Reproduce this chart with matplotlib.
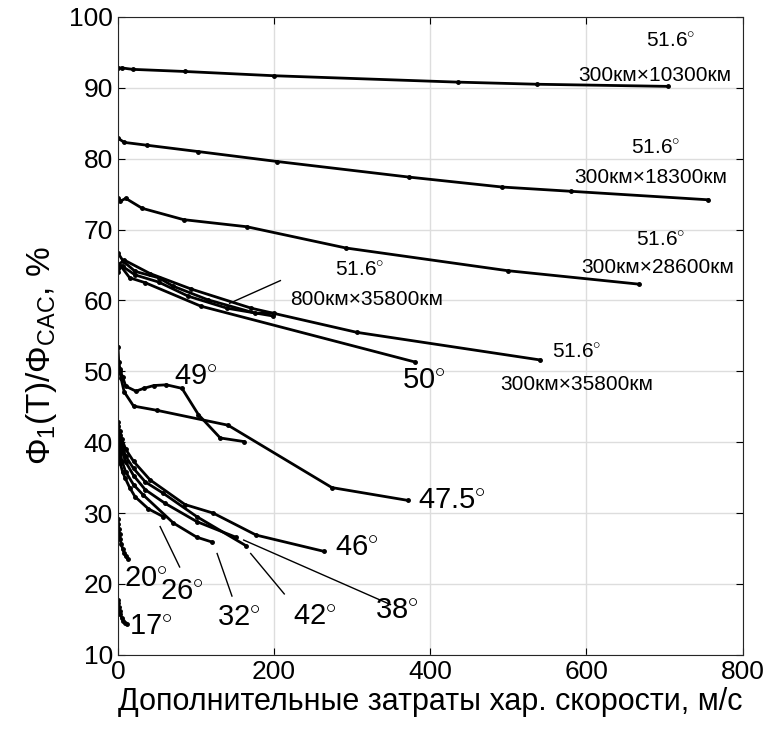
import matplotlib.pyplot as plt

plt.rcParams["font.family"] = ["Liberation Sans", "DejaVu Sans"]
plt.rcParams["mathtext.fontset"] = "custom"
plt.rcParams["mathtext.rm"] = "Liberation Sans"
plt.rcParams["mathtext.it"] = "Liberation Sans:italic"

# ---- curves: extra delta-V (m/s) vs Phi1(T)/Phi_CAC (%) ----
x_10300 = [0, 5, 19, 86, 200, 435, 537, 704]
y_10300 = [92.8, 92.8, 92.6, 92.3, 91.7, 90.8, 90.5, 90.2]

x_18300 = [0, 8, 37, 103, 204, 373, 492, 580, 756]
y_18300 = [82.9, 82.3, 81.9, 81.0, 79.6, 77.4, 76.0, 75.4, 74.2]

x_28600 = [0, 3, 10, 31, 84, 165, 292, 499, 667]
y_28600 = [74.4, 74.0, 74.4, 73.0, 71.4, 70.4, 67.4, 64.2, 62.3]

x_35800_300 = [0, 8, 41, 94, 171, 306, 541]
y_35800_300 = [65.0, 65.7, 63.8, 61.6, 58.9, 55.5, 51.6]

x_35800_800a = [0, 7, 22, 52, 71, 115, 176, 200]
y_35800_800a = [66.7, 65.5, 64.1, 63.2, 62.0, 60.1, 58.2, 58.2]

x_35800_800b = [0, 6, 22, 52, 90, 140, 199]
y_35800_800b = [64.6, 64.8, 63.6, 62.6, 60.6, 58.9, 57.8]

x_50 = [0, 4, 15, 35, 106, 381]
y_50 = [64.0, 64.8, 63.2, 62.5, 59.2, 51.3]

x_49 = [0, 1, 3, 6, 10, 23, 33, 46, 62, 82, 103, 131, 161]
y_49 = [53.5, 51.3, 50.1, 49.2, 47.9, 47.2, 47.6, 48.0, 48.1, 47.6, 43.9, 40.6, 40.1]

x_475 = [0, 2, 4, 8, 20, 50, 141, 274, 371]
y_475 = [51.3, 50.3, 49.0, 47.1, 45.1, 44.5, 42.4, 33.6, 31.8]

x_46 = [0, 2, 5, 10, 20, 41, 86, 122, 177, 264]
y_46 = [42.9, 41.6, 40.4, 39.0, 37.3, 34.7, 31.2, 30.0, 26.9, 24.6]

x_42 = [0, 2, 5, 10, 20, 35, 58, 101, 164]
y_42 = [42.3, 41.0, 39.6, 38.0, 36.3, 34.4, 32.8, 29.5, 25.4]

x_38 = [0, 2, 5, 10, 20, 35, 60, 101, 151]
y_38 = [41.6, 40.2, 38.8, 37.2, 35.3, 33.3, 31.4, 28.8, 26.6]

x_32 = [0, 2, 5, 10, 20, 32, 71, 101, 121]
y_32 = [40.6, 39.0, 37.4, 35.8, 34.0, 32.6, 28.6, 26.6, 25.9]

x_26 = [0, 1, 3, 6, 9, 15, 22, 39, 58]
y_26 = [39.5, 38.3, 37.0, 35.8, 35.0, 33.6, 32.3, 30.6, 29.5]

x_20 = [0, 0.5, 1, 2, 3, 4, 6, 8, 10, 13]
y_20 = [29.2, 28.5, 27.8, 27.0, 26.3, 25.7, 25.0, 24.4, 23.9, 23.5]

x_17 = [0, 0.5, 1, 2, 3, 5, 7, 9, 11]
y_17 = [17.8, 17.3, 16.8, 16.2, 15.7, 15.2, 14.8, 14.5, 14.3]

curves = [
    (x_10300, y_10300), (x_18300, y_18300), (x_28600, y_28600),
    (x_35800_300, y_35800_300), (x_35800_800a, y_35800_800a),
    (x_35800_800b, y_35800_800b), (x_50, y_50), (x_49, y_49),
    (x_475, y_475), (x_46, y_46), (x_42, y_42), (x_38, y_38),
    (x_32, y_32), (x_26, y_26), (x_20, y_20), (x_17, y_17),
]

# ---- text labels ----
small_labels = [
    (708, 96.6, "51.6$^{\\circ}$"), (688, 91.8, "300км×10300км"),
    (688, 81.5, "51.6$^{\\circ}$"), (682, 77.3, "300км×18300км"),
    (695, 68.5, "51.6$^{\\circ}$"), (691, 64.6, "300км×28600км"),
    (310, 64.3, "51.6$^{\\circ}$"), (318, 60.1, "800км×35800км"),
    (588, 52.7, "51.6$^{\\circ}$"), (588, 48.1, "300км×35800км"),
]
big_labels = [
    (392, 48.7, "50$^{\\circ}$"), (100, 49.2, "49$^{\\circ}$"),
    (428, 31.7, "47.5$^{\\circ}$"), (306, 25.1, "46$^{\\circ}$"),
    (357, 16.2, "38$^{\\circ}$"), (252, 15.3, "42$^{\\circ}$"),
    (155, 15.2, "32$^{\\circ}$"), (82, 18.9, "26$^{\\circ}$"),
    (36, 20.7, "20$^{\\circ}$"), (42, 13.9, "17$^{\\circ}$"),
]
pointers = [
    ((143, 59.6), (208, 62.8)),
    ((54, 28.1), (79, 22.4)),
    ((127, 24.3), (146, 18.3)),
    ((170, 24.3), (213, 18.6)),
    ((161, 26.2), (349, 17.1)),
]

fig = plt.figure(figsize=(7.76, 7.35), dpi=100)
ax = fig.add_axes([0.152, 0.109, 0.805, 0.868])

for xs, ys in curves:
    ax.plot(xs, ys, color="black", linewidth=2, marker=".", markersize=5)

for (x0, y0), (x1, y1) in pointers:
    ax.plot([x0, x1], [y0, y1], color="black", linewidth=1)

for x, y, s in small_labels:
    ax.text(x, y, s, fontsize=15, ha="center", va="center")
for x, y, s in big_labels:
    ax.text(x, y, s, fontsize=21, ha="center", va="center")

ax.set_xlim(0, 800)
ax.set_ylim(10, 100)
ax.set_xticks(range(0, 801, 200))
ax.set_yticks(range(10, 101, 10))
ax.tick_params(direction="in", labelsize=19, top=True, right=True, length=5)
ax.grid(True, color="#dddddd", linewidth=1)
ax.set_axisbelow(True)
for sp in ax.spines.values():
    sp.set_color("#262626")

ax.set_xlabel("Дополнительные затраты хар. скорости, м/с", fontsize=22, labelpad=2)
ax.set_ylabel("$\\Phi_1$(T)/$\\Phi_{\\rm CAC}$, %", fontsize=24)
ax.yaxis.set_label_coords(-0.095, 0.47)

fig.savefig("out.png", dpi=100)
